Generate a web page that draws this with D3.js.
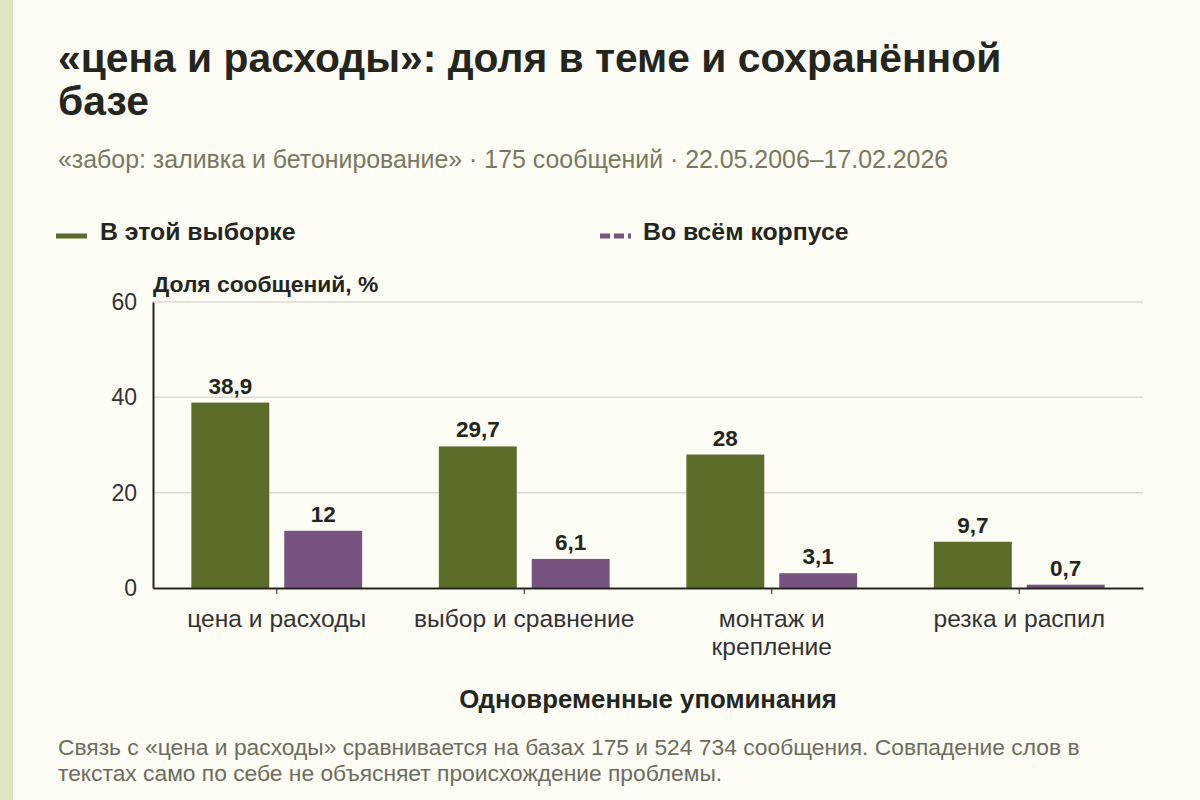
<!DOCTYPE html>
<html><head><meta charset="utf-8">
<script src="https://cdn.jsdelivr.net/npm/d3@7"></script>
<style>
html,body{margin:0;padding:0;background:#fdfcf5;}
svg{display:block;font-family:"Liberation Sans",Arial,sans-serif;}
</style></head>
<body>
<svg id="c" width="1200" height="800"></svg>
<script>
const categories = ["цена и расходы","выбор и сравнение","монтаж и крепление","резка и распил"];
const categoryLines = [["цена и расходы"],["выбор и сравнение"],["монтаж и","крепление"],["резка и распил"]];
const seriesNames = ["В этой выборке","Во всём корпусе"];
const sampleValues = [38.9, 29.7, 28, 9.7];
const corpusValues = [12, 6.1, 3.1, 0.7];
const yTicks = [0, 20, 40, 60];
const colors = ["#5b6b28", "#775380"];

(function(){
const svg = d3.select("#c");
svg.append("rect").attr("x",0).attr("y",0).attr("width",1200).attr("height",800).attr("fill","#fdfcf5");
svg.append("rect").attr("x",0).attr("y",0).attr("width",13).attr("height",800).attr("fill","#dfe5c0");

// title
svg.append("text").attr("x",58).attr("y",72).attr("font-size",40.8).attr("font-weight","bold").attr("fill","#24261e")
  .text("«цена и расходы»: доля в теме и сохранённой");
svg.append("text").attr("x",58).attr("y",115).attr("font-size",40.8).attr("font-weight","bold").attr("fill","#24261e")
  .text("базе");
svg.append("text").attr("x",58).attr("y",168).attr("font-size",24.9).attr("fill","#78795f")
  .text("«забор: заливка и бетонирование» · 175 сообщений · 22.05.2006–17.02.2026");

// legend
const lg = svg.append("g");
lg.append("line").attr("x1",56).attr("x2",87).attr("y1",236).attr("y2",236).attr("stroke",colors[0]).attr("stroke-width",5);
lg.append("text").attr("x",100).attr("y",240).attr("font-size",24.8).attr("font-weight","bold").attr("fill","#24261e").text(seriesNames[0]);
lg.append("line").attr("x1",600).attr("x2",631).attr("y1",236).attr("y2",236).attr("stroke",colors[1]).attr("stroke-width",5).attr("stroke-dasharray","10,4");
lg.append("text").attr("x",643).attr("y",240).attr("font-size",24.8).attr("font-weight","bold").attr("fill","#24261e").text(seriesNames[1]);

const pL = 153, pR = 1143, pT = 302, pB = 588;
const y = d3.scaleLinear().domain([0,60]).range([pB, pT]);
const x0 = d3.scaleBand().domain(categories).range([pL,pR]).paddingInner(0.31).paddingOuter(0.155);
const x1 = d3.scaleBand().domain([0,1]).range([0, x0.bandwidth()]).paddingInner(0.161).paddingOuter(0);

// grid
svg.append("g").selectAll("line").data(yTicks.filter(d=>d>0)).join("line")
  .attr("x1",pL).attr("x2",pR).attr("y1",d=>y(d)).attr("y2",d=>y(d))
  .attr("stroke","#dcdad2").attr("stroke-width",1.5);

// y axis
const ya = svg.append("g").attr("transform",`translate(${pL},0)`)
  .call(d3.axisLeft(y).tickValues(yTicks).tickSize(0).tickPadding(16));
ya.select(".domain").attr("stroke","#24261e").attr("stroke-width",2);
ya.selectAll("text").attr("font-size",23).attr("fill","#333").attr("font-family","Liberation Sans, Arial, sans-serif");

svg.append("text").attr("x",pL).attr("y",292).attr("font-size",22.8).attr("font-weight","bold").attr("fill","#24261e").text("Доля сообщений, %");

// bars
const groups = svg.append("g").selectAll("g").data(categories).join("g")
  .attr("transform",d=>`translate(${x0(d)},0)`);
groups.each(function(c,i){
  const g = d3.select(this);
  const vals = [sampleValues[i], corpusValues[i]];
  vals.forEach((v,j)=>{
    g.append("rect").attr("x",x1(j)).attr("width",x1.bandwidth())
      .attr("y",y(v)).attr("height",pB - y(v)).attr("fill",colors[j]);
    g.append("text").attr("x",x1(j)+x1.bandwidth()/2).attr("y",y(v)-9)
      .attr("text-anchor","middle").attr("font-size",22.5).attr("font-weight","bold").attr("fill","#24261e")
      .text(String(v).replace(".",","));
  });
});

// x axis
const xa = svg.append("g").attr("transform",`translate(0,${pB})`)
  .call(d3.axisBottom(x0).tickSize(6).tickSizeOuter(0).tickFormat(""));
xa.select(".domain").attr("stroke","#24261e").attr("stroke-width",2);
xa.selectAll(".tick line").attr("stroke","#24261e").attr("stroke-width",1);
xa.selectAll(".tick").each(function(d,i){
  const t = d3.select(this).append("text").attr("fill","#333").attr("font-size",24.6)
    .attr("text-anchor","middle").attr("font-family","Liberation Sans, Arial, sans-serif");
  categoryLines[i].forEach((ln,k)=>{
    t.append("tspan").attr("x",0).attr("y",39 + k*28).text(ln);
  });
});

svg.append("text").attr("x",(pL+pR)/2).attr("y",708).attr("text-anchor","middle")
  .attr("font-size",25.8).attr("font-weight","bold").attr("fill","#24261e").text("Одновременные упоминания");

// footer
const ft = svg.append("text").attr("font-size",22.8).attr("fill","#6c6d5d");
ft.append("tspan").attr("x",58).attr("y",755).text("Связь с «цена и расходы» сравнивается на базах 175 и 524 734 сообщения. Совпадение слов в");
ft.append("tspan").attr("x",58).attr("y",781).text("текстах само по себе не объясняет происхождение проблемы.");
})();
</script>
</body></html>
